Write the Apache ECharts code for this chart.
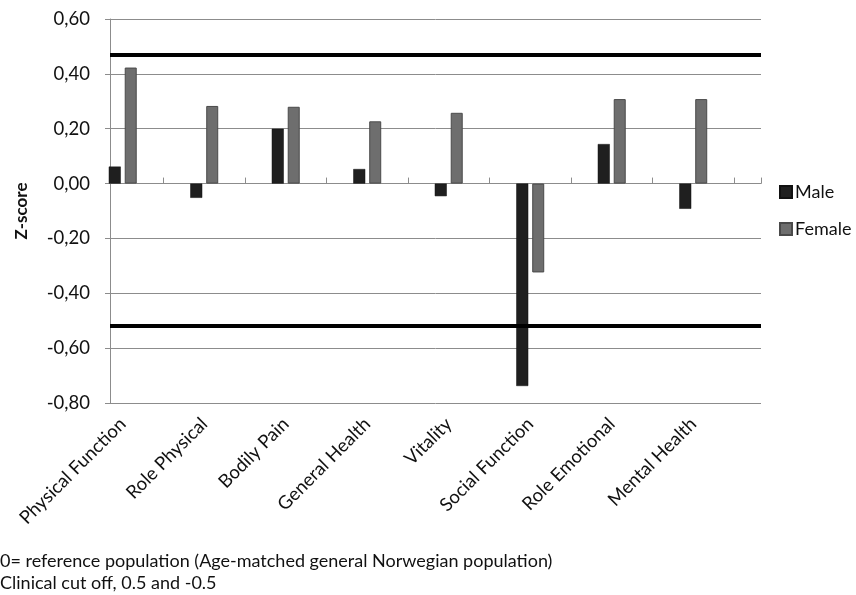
<!DOCTYPE html>
<html>
<head>
<meta charset="utf-8">
<script src="https://cdn.jsdelivr.net/npm/echarts@6/dist/echarts.min.js"></script>
<style>
html,body{margin:0;padding:0;background:#fff;}
#chart{width:856px;height:595px;}
</style>
</head>
<body>
<div id="chart"></div>
<script>
const categories = ['Physical Function', 'Role Physical', 'Bodily Pain', 'General Health', 'Vitality', 'Social Function', 'Role Emotional', 'Mental Health'];
const maleValues = [0.062, -0.052, 0.200, 0.053, -0.046, -0.738, 0.144, -0.092];
const femaleValues = [0.423, 0.283, 0.280, 0.227, 0.258, -0.324, 0.308, 0.308];
const cutoffValues = [0.475, -0.52];
const yMin = -0.8, yMax = 0.6, yStep = 0.2;
const noteLines = ['0= reference population (Age-matched general Norwegian population)', 'Clinical cut off, 0.5 and -0.5'];

const FONT = 'Lato';
const gridColor = '#8c8c8c';
const textColor = '#111';

function fmt(v) {
  if (Math.abs(v) < 1e-9) v = 0;
  return v.toFixed(2).replace('.', ',');
}

const chart = echarts.init(document.getElementById('chart'), null, {renderer: 'canvas'});
chart.setOption({
  animation: false,
  backgroundColor: '#fff',
  textStyle: {fontFamily: FONT},
  grid: [
    {left: 110, right: 95, top: 19, bottom: 192, containLabel: false},
    {left: 82, right: 122, top: 19, bottom: 192, containLabel: false}
  ],
  xAxis: [
    {
      gridIndex: 0, type: 'category', data: [''], position: 'bottom',
      axisLine: {show: true, onZero: true, lineStyle: {color: gridColor, width: 1}},
      axisTick: {show: true, inside: true, length: 6, lineStyle: {color: gridColor}},
      axisLabel: {show: false}, splitLine: {show: false}
    },
    {
      gridIndex: 1, type: 'category', data: categories, position: 'bottom',
      axisLine: {show: false, onZero: false},
      axisTick: {show: false},
      axisLabel: {show: true, rotate: 45, margin: 18, interval: 0, fontFamily: FONT, fontSize: 18.5, color: textColor},
      splitLine: {show: false}
    },
    {
      gridIndex: 1, type: 'category', data: categories, position: 'top',
      axisLine: {show: false, onZero: true},
      axisTick: {show: true, inside: false, length: 6, interval: function (i) { return i !== 0; }, lineStyle: {color: gridColor}},
      axisLabel: {show: false}, splitLine: {show: false}
    }
  ],
  yAxis: [
    {
      gridIndex: 0, type: 'value', min: yMin, max: yMax, interval: yStep,
      name: 'Z-score', nameLocation: 'middle', nameGap: 80, nameRotate: 90,
      nameTextStyle: {fontFamily: FONT, fontSize: 17, fontWeight: 'bold', color: textColor},
      axisLine: {show: true, lineStyle: {color: gridColor}},
      axisTick: {show: true, length: 5, lineStyle: {color: gridColor}},
      axisLabel: {formatter: fmt, margin: 20, fontFamily: FONT, fontSize: 18.5, color: textColor},
      splitLine: {show: true, lineStyle: {color: gridColor, width: 1}}
    },
    {
      gridIndex: 1, type: 'value', min: yMin, max: yMax, interval: yStep,
      axisLine: {show: false}, axisTick: {show: false}, axisLabel: {show: false}, splitLine: {show: false}
    }
  ],
  legend: {
    orient: 'vertical', left: 779, top: 181, padding: 0, itemWidth: 12, itemHeight: 12, itemGap: 15,
    icon: 'rect',
    textStyle: {fontFamily: FONT, fontSize: 18, color: textColor, lineHeight: 22, padding: [0, 0, 0, -2]},
    data: ['Male', 'Female']
  },
  series: [
    {
      name: 'Male', type: 'bar', xAxisIndex: 1, yAxisIndex: 1, data: maleValues,
      barWidth: 12, barGap: '33%',
      itemStyle: {color: '#1f1f1f', borderColor: '#111', borderWidth: 0.5}
    },
    {
      name: 'Female', type: 'bar', xAxisIndex: 1, yAxisIndex: 1, data: femaleValues,
      barWidth: 12, barGap: '33%',
      itemStyle: {color: '#6e6e6e', borderColor: '#4a4a4a', borderWidth: 1}
    },
    {
      name: 'cutoff', type: 'line', xAxisIndex: 0, yAxisIndex: 0, data: [],
      silent: true,
      markLine: {
        silent: true, symbol: ['none', 'none'], label: {show: false},
        lineStyle: {color: '#000', width: 4, type: 'solid'},
        data: cutoffValues.map(v => ({yAxis: v}))
      }
    }
  ],
  graphic: [
    {type: 'text', left: 0, top: 552, style: {text: noteLines[0], font: '18px Lato', fill: textColor}},
    {type: 'text', left: 0, top: 574, style: {text: noteLines[1], font: '18px Lato', fill: textColor}}
  ]
});
</script>
</body>
</html>
